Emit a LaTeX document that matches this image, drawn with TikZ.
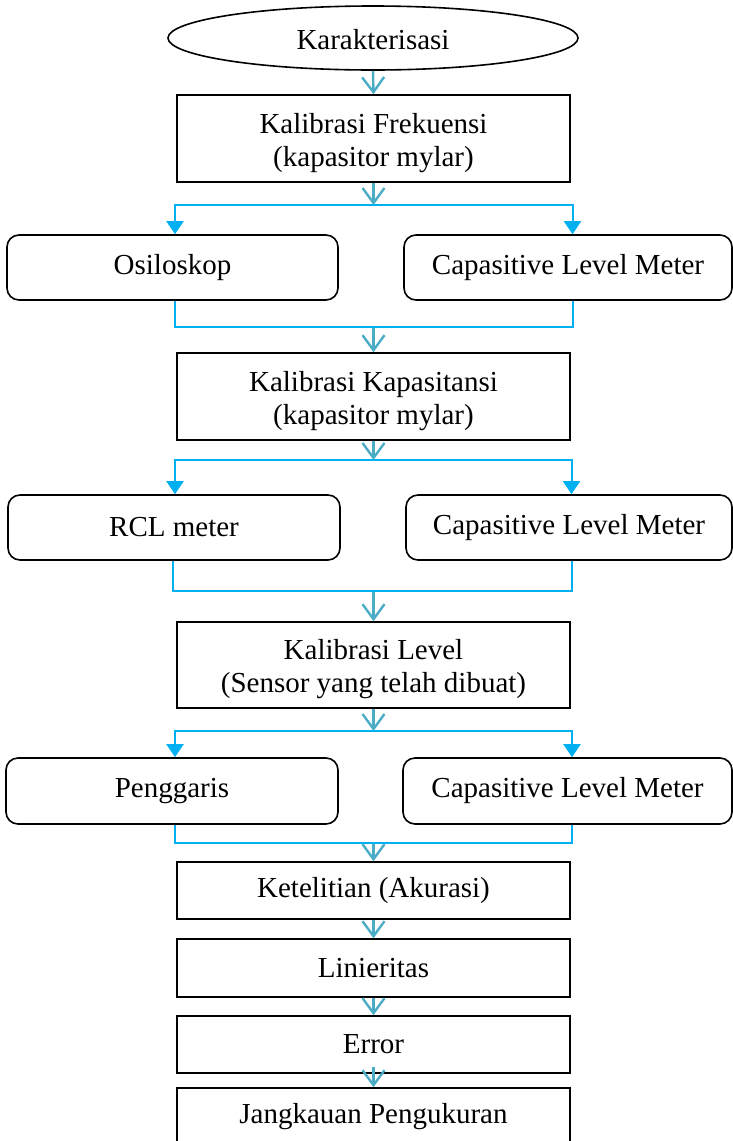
\documentclass[tikz,border=0pt]{standalone}
\usepackage{fontspec}
\setmainfont{Liberation Serif}
\usetikzlibrary{arrows.meta,shapes.geometric}
\definecolor{flowcol}{HTML}{4BACC6}
\definecolor{branchcol}{HTML}{00B0F0}
\newcommand{\tallstrut}{\rule{0pt}{29pt}}
\tikzset{
  base/.style={draw=black, line width=1.6pt, inner sep=0pt, align=center,
    font=\fontsize{29}{33}\selectfont},
  mainbox/.style={base, rectangle, minimum width=393pt},
  roundbox/.style={base, rectangle, rounded corners=12pt, minimum height=65pt},
  startnode/.style={base, ellipse, minimum width=410pt, minimum height=64pt},
  flow/.style={draw=flowcol, line width=2.4pt,
    -{Straight Barb[length=15pt,width=22pt]}},
  branch/.style={draw=branchcol, line width=2pt},
  branchin/.style={branch, -{Triangle[length=13pt,width=17pt]}},
}
\begin{document}
\begin{tikzpicture}[x=1pt,y=-1pt]
\useasboundingbox (0,0) rectangle (732,1141);

% start of the procedure
\node[startnode] (start) at (373,38) {\rule{0pt}{24pt}Karakterisasi};

% frequency calibration stage
\node[mainbox, minimum height=87pt] (f1) at (373.5,138.5)
  {\tallstrut Kalibrasi Frekuensi\\(kapasitor mylar)};
\node[roundbox, minimum width=331pt] (osc) at (172.5,267.5) {Osiloskop};
\node[roundbox, minimum width=328pt] (clmA) at (568,267.5) {Capasitive Level Meter};

% capacitance calibration stage
\node[mainbox, minimum height=87pt] (f2) at (373.5,396.5)
  {\tallstrut Kalibrasi Kapasitansi\\(kapasitor mylar)};
\node[roundbox, minimum width=332pt] (rcl) at (174,527.5) {RCL meter};
\node[roundbox, minimum width=326pt] (clmB) at (569,527.5) {Capasitive Level Meter};

% level calibration stage
\node[mainbox, minimum height=86pt] (f3) at (373.5,665)
  {\tallstrut Kalibrasi Level\\(Sensor yang telah dibuat)};
\node[roundbox, minimum width=332pt, minimum height=66pt] (pg) at (172,791) {Penggaris};
\node[roundbox, minimum width=329pt, minimum height=66pt] (clmC) at (567.5,791) {Capasitive Level Meter};

% evaluated quantities
\node[mainbox, minimum height=57pt] (acc) at (373.5,890.5) {Ketelitian (Akurasi)};
\node[mainbox, minimum height=58pt] (lin) at (373.5,968) {Linieritas};
\node[mainbox, minimum height=57pt] (err) at (373.5,1044.5) {Error};
\node[mainbox, minimum height=57pt] (rng) at (373.5,1116.5) {Jangkauan Pengukuran};

% split and merge points
\coordinate (sA) at (373.5,205);
\coordinate (mA) at (373.5,327);
\coordinate (sB) at (373.5,460);
\coordinate (mB) at (373.5,591);
\coordinate (sC) at (373.5,731);
\coordinate (mC) at (373.5,843);

% main flow
\draw[flow] (start.south) -- (f1.north);
\draw[flow] (f1.south) -- (sA);
\draw[flow] (mA) -- (f2.north);
\draw[flow] (f2.south) -- (sB);
\draw[flow] (mB) -- (f3.north);
\draw[flow] (f3.south) -- (sC);
\draw[flow] (mC) -- (acc.north);
\draw[flow] (acc.south) -- (lin.north);
\draw[flow] (lin.south) -- (err.north);
\draw[flow] ([yshift=7pt]err.south) -- (rng.north);

% branches to the two instruments of each stage
\draw[branchin] (sA) -| ([xshift=2.5pt]osc.north);
\draw[branchin] (sA) -| ([xshift=4.5pt]clmA.north);
\draw[branch] ([xshift=2pt]osc.south) |- (mA) -| ([xshift=4.5pt]clmA.south);

\draw[branchin] (sB) -| ([xshift=1pt]rcl.north);
\draw[branchin] (sB) -| ([xshift=2.5pt]clmB.north);
\draw[branch] ([xshift=-1pt]rcl.south) |- (mB) -| ([xshift=2.5pt]clmB.south);

\draw[branchin] (sC) -| ([xshift=3pt]pg.north);
\draw[branchin] (sC) -| ([xshift=4.5pt]clmC.north);
\draw[branch] ([xshift=3pt]pg.south) |- (mC) -| ([xshift=4.5pt]clmC.south);
\end{tikzpicture}
\end{document}
